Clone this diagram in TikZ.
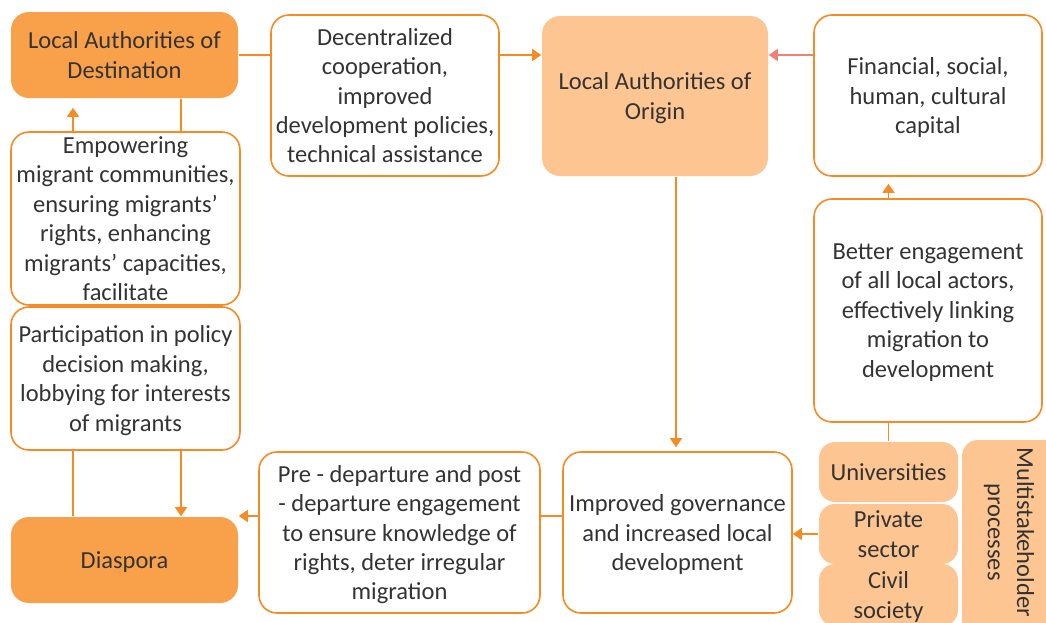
\documentclass[tikz,border=0pt]{standalone}
\usepackage{fontspec}
\setmainfont{Carlito}
\usetikzlibrary{arrows.meta,calc}
\definecolor{edge}{HTML}{F68B24}
\definecolor{deep}{HTML}{F9A04B}
\definecolor{pale}{HTML}{FDC591}
\definecolor{coral}{HTML}{EE8272}
\definecolor{ink}{HTML}{333333}

\begin{document}
\begin{tikzpicture}[x=1pt,y=-1pt,
  box/.style={draw=edge,line width=1.6pt,fill=white,rounded corners=18pt,align=center,text=ink,inner sep=0pt,text depth=-3pt,font=\fontsize{24.5}{29.4}\selectfont},
  hub/.style={box,draw=none,fill=deep},
  soft/.style={box,draw=none,fill=pale},
  tag/.style={soft,rounded corners=16pt},
  ar/.style={-{Triangle[length=9pt,width=12pt]},edge,line width=1.6pt},
  ln/.style={edge,line width=1.6pt}]
  \useasboundingbox (0,0) rectangle (1046,622);
  % top row
  \node[hub,minimum width=227,minimum height=86] (dest) at (124.5,55) {Local Authorities of\\Destination};
  \node[box,minimum width=228,minimum height=161] (decen) at (385,95.5) {Decentralized\\cooperation,\\improved\\development policies,\\technical assistance};
  \node[soft,minimum width=226,minimum height=160] (origin) at (655,96) {Local Authorities of\\Origin};
  \node[box,minimum width=228,minimum height=161] (fin) at (928,95.5) {Financial, social,\\human, cultural\\capital};
  % left column
  \node[box,minimum width=229,minimum height=173] (empow) at (125.5,218.5) {Empowering\\migrant communities,\\ensuring migrants’\\rights, enhancing\\migrants’ capacities,\\facilitate};
  \node[box,minimum width=229,minimum height=143] (partic) at (125.5,378.5) {Participation in policy\\decision making,\\lobbying for interests\\of migrants};
  \node[hub,minimum width=227,minimum height=86] (diasp) at (124.5,560) {Diaspora};
  % bottom row
  \node[box,minimum width=281,minimum height=161] (pre) at (399.5,532.5) {Pre - departure and post\\- departure engagement\\to ensure knowledge of\\rights, deter irregular\\migration};
  \node[box,minimum width=229,minimum height=161] (gov) at (677.5,532.5) {Improved governance\\and increased local\\development};
  % right column
  \node[box,minimum width=228,minimum height=223] (better) at (928,310.5) {Better engagement\\of all local actors,\\effectively linking\\migration to\\development};
  \node[tag,minimum width=139,minimum height=60] (univ) at (888.5,472) {Universities};
  \node[tag,minimum width=139,minimum height=60] (priv) at (888.5,534) {Private\\sector};
  \node[tag,minimum width=139,minimum height=62] (civil) at (888.5,595) {Civil\\society};
  \node[tag,rotate=-90,minimum width=200,minimum height=98] (multi) at (1011,540) {Multistakeholder\hspace*{16pt}\\processes\hspace*{16pt}};
  % connectors
  \draw[ln] (dest.east) -- (dest.east -| decen.west);
  \draw[ar] (decen.east |- dest.east) -- (origin.west |- dest.east);
  \draw[ar,coral] (fin.west |- dest.east) -- (origin.east |- dest.east);
  \draw[ar,shorten >=7pt] (better.north -| univ.north) -- (fin.south -| univ.north);
  \draw[ln] (better.south -| univ.north) -- (univ.north);
  \draw[ar,shorten >=4pt] ([xshift=21pt]origin.south) -- ([xshift=21pt]origin.south |- gov.north);
  \draw[ar] (priv.west) -- (gov.east |- priv.west);
  \draw[ln] ([yshift=16.5pt]gov.west) -- ([yshift=16.5pt]gov.west -| pre.east);
  \draw[ar] ([yshift=16.5pt]pre.west) -- ([yshift=16.5pt]pre.west -| diasp.east);
  \draw[ar,shorten >=9pt] ([xshift=-52.5pt]empow.north) -- ([xshift=-52.5pt]empow.north |- dest.south);
  \draw[ln] ([xshift=55.5pt]empow.north) -- ([xshift=55.5pt]empow.north |- dest.south);
  \draw[ln] ([xshift=-52.5pt]partic.south) -- ([xshift=-52.5pt]partic.south |- diasp.north);
  \draw[ar] ([xshift=55.5pt]partic.south) -- ([xshift=55.5pt]partic.south |- diasp.north);
\end{tikzpicture}
\end{document}
